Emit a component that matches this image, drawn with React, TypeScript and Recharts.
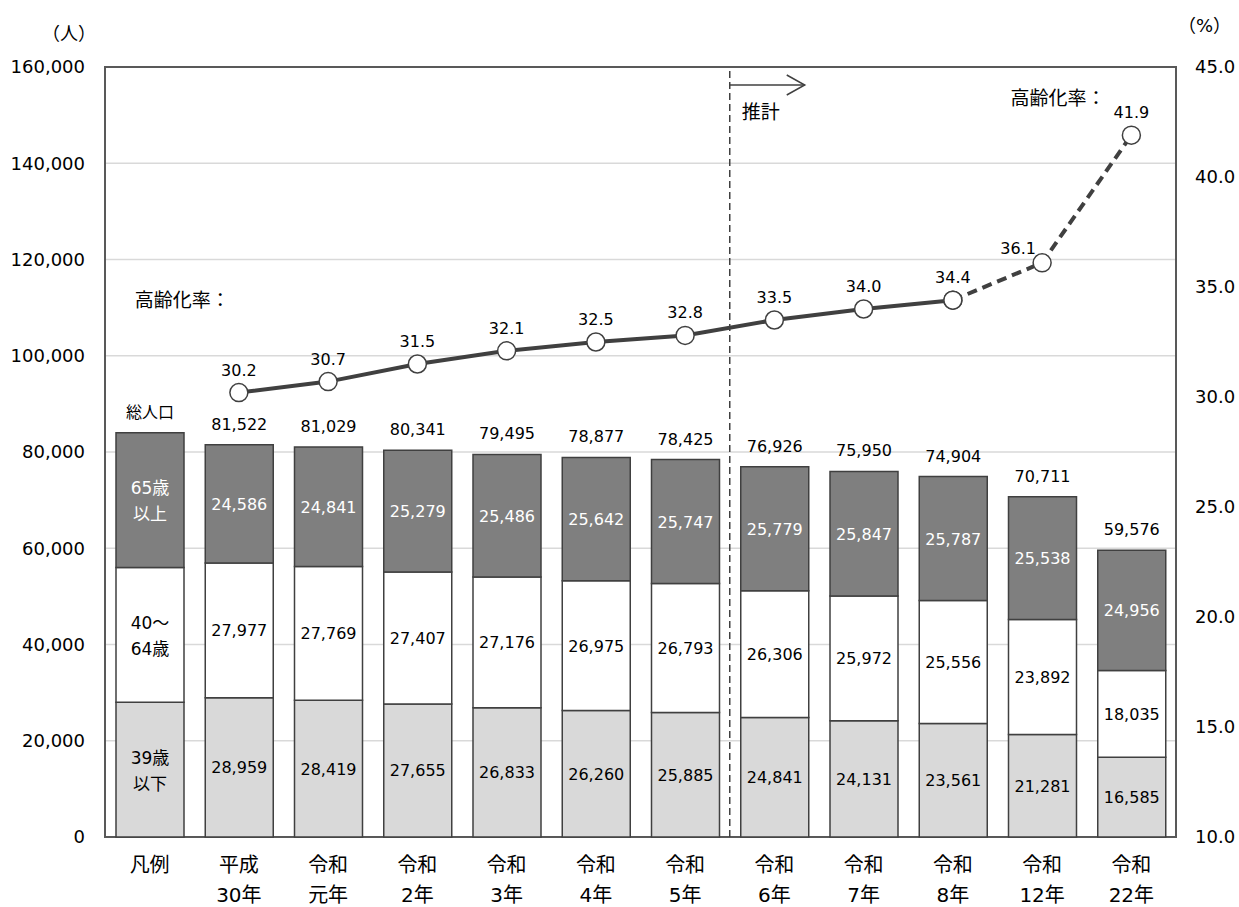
import {
  ComposedChart, Bar, Line, XAxis, YAxis, CartesianGrid, LabelList,
  ReferenceLine, ReferenceArea, ReferenceDot
} from 'recharts'

const categories = ['凡例', '平成30年', '令和元年', '令和2年', '令和3年', '令和4年', '令和5年', '令和6年', '令和7年', '令和8年', '令和12年', '令和22年']
const under40 = [28000, 28959, 28419, 27655, 26833, 26260, 25885, 24841, 24131, 23561, 21281, 16585]
const age40to64 = [28000, 27977, 27769, 27407, 27176, 26975, 26793, 26306, 25972, 25556, 23892, 18035]
const over65 = [28000, 24586, 24841, 25279, 25486, 25642, 25747, 25779, 25847, 25787, 25538, 24956]
const agingRate: (number | null)[] = [null, 30.2, 30.7, 31.5, 32.1, 32.5, 32.8, 33.5, 34.0, 34.4, 36.1, 41.9]

const legendLabels = ['39歳\n以下', '40～\n64歳', '65歳\n以上']
const totalLegend = '総人口'
const projectionStart = '令和6年'
const solidLineEnd = '令和8年'
const leftTicks = [0, 20000, 40000, 60000, 80000, 100000, 120000, 140000, 160000]
const rightTicks = [10, 15, 20, 25, 30, 35, 40, 45]

const solidEnd = categories.indexOf(solidLineEnd)
// label nudged to the left so the rising dashed line doesn't cross it
const shiftedLabel = categories.indexOf('令和12年')

const data = categories.map((name, i) => ({
  name,
  under40: under40[i],
  mid: age40to64[i],
  over65: over65[i],
  total: under40[i] + age40to64[i] + over65[i],
  rateSolid: i <= solidEnd ? agingRate[i] : null,
  rateDashed: i >= solidEnd ? agingRate[i] : null,
}))

const fmt = (v: number) => v.toLocaleString('en-US')
const DARK = '#404040'

const segmentLabel = (color: string, legendIdx: number) => (props: any) => {
  const { x, y, width, height, value, index } = props
  const cx = x + width / 2
  const cy = y + height / 2
  if (index === 0) {
    const [a, b] = legendLabels[legendIdx].split('\n')
    return (
      <text textAnchor="middle" fill={color} fontSize={17}>
        <tspan x={cx} y={cy - 6}>{a}</tspan>
        <tspan x={cx} y={cy + 20}>{b}</tspan>
      </text>
    )
  }
  return (
    <text x={cx} y={cy + 6} textAnchor="middle" fill={color} fontSize={16}>
      {fmt(value)}
    </text>
  )
}

const totalLabel = (props: any) => {
  const { x, y, width, index } = props
  const cx = x + width / 2
  if (index === 0) {
    return <text x={cx} y={y - 15} textAnchor="middle" fill="#000" fontSize={16}>{totalLegend}</text>
  }
  return <text x={cx} y={y - 15} textAnchor="middle" fill="#000" fontSize={16}>{fmt(data[index].total)}</text>
}

const rateLabel = (skip: number) => (props: any) => {
  const { x, y, value, index } = props
  if (value == null || index === skip) return null
  const dx = index === shiftedLabel ? -24 : 0
  const dy = index === shiftedLabel ? -9 : -17
  return <text x={x + dx} y={y + dy} textAnchor="middle" fill="#000" fontSize={16}>{Number(value).toFixed(1)}</text>
}

const CategoryTick = (props: any) => {
  const { x, y, payload } = props
  const label: string = payload.value
  const l1 = label.slice(0, 2)
  const l2 = label.slice(2)
  return (
    <text textAnchor="middle" fill="#000" fontSize={20}>
      <tspan x={x} y={y + 35}>{l1}</tspan>
      {l2 && <tspan x={x} y={y + 65}>{l2}</tspan>}
    </text>
  )
}

export default function App() {
  return (
    <div style={{ position: 'absolute', left: 0, top: 0, width: 1239, height: 907, background: '#fff', fontFamily: '"DejaVu Sans", "Noto Sans CJK JP", sans-serif' }}>
      <div style={{ position: 'absolute', left: 42, top: 19, fontSize: 18 }}>（人）</div>
      <div style={{ position: 'absolute', left: 1178, top: 11, fontSize: 18 }}>（%）</div>
      <ComposedChart width={1239} height={907} data={data} margin={{ top: 67, right: 0, bottom: 0, left: 0 }}>
        <CartesianGrid yAxisId="left" vertical={false} stroke="#d9d9d9" strokeWidth={1.5} />
        <ReferenceArea yAxisId="left" y1={0} y2={160000} fill="none" stroke="#595959" strokeWidth={2} />
        <XAxis dataKey="name" height={70} axisLine={false} tickLine={false} tickSize={0} tickMargin={0} interval={0} tick={<CategoryTick />} />
        <YAxis yAxisId="left" width={105} domain={[0, 160000]} ticks={leftTicks} tickFormatter={fmt}
          axisLine={false} tickLine={false} tickSize={0} tickMargin={20} tick={{ fill: '#000', fontSize: 18 }} />
        <YAxis yAxisId="right" orientation="right" width={63} domain={[10, 45]} ticks={rightTicks}
          tickFormatter={(v: number) => v.toFixed(1)}
          axisLine={false} tickLine={false} tickSize={0} tickMargin={19} tick={{ fill: '#000', fontSize: 18 }} />
        <Bar yAxisId="left" dataKey="under40" stackId="a" barSize={68} fill="#d9d9d9" stroke={DARK} strokeWidth={1.5} isAnimationActive={false}>
          <LabelList dataKey="under40" content={segmentLabel('#000', 0)} />
        </Bar>
        <Bar yAxisId="left" dataKey="mid" stackId="a" barSize={68} fill="#ffffff" stroke={DARK} strokeWidth={1.5} isAnimationActive={false}>
          <LabelList dataKey="mid" content={segmentLabel('#000', 1)} />
        </Bar>
        <Bar yAxisId="left" dataKey="over65" stackId="a" barSize={68} fill="#7f7f7f" stroke={DARK} strokeWidth={1.5} isAnimationActive={false}>
          <LabelList dataKey="over65" content={segmentLabel('#fff', 2)} />
          <LabelList dataKey="total" content={totalLabel} />
        </Bar>
        <ReferenceLine yAxisId="left" x={projectionStart} position="start" stroke={DARK} strokeWidth={1.5} strokeDasharray="7 4"
          label={(p: any) => {
            const { x, y } = p.viewBox
            const ay = y + 18
            return (
              <g>
                <line x1={x} y1={ay} x2={x + 75} y2={ay} stroke={DARK} strokeWidth={1.5} />
                <polyline points={`${x + 57},${ay - 10} ${x + 75},${ay} ${x + 57},${ay + 10}`} fill="none" stroke={DARK} strokeWidth={1.5} />
                <text x={x + 12} y={y + 52} fontSize={19} fill="#000">推計</text>
              </g>
            )
          }} />
        <ReferenceDot yAxisId="right" x="凡例" y={34.4} r={0} fill="none" stroke="none"
          label={(p: any) => {
            const { x, y } = p.viewBox
            return <text x={x - 15} y={y + 7} fontSize={19} fill="#000">高齢化率：</text>
          }} />
        <ReferenceDot yAxisId="right" x="令和22年" y={43.6} r={0} fill="none" stroke="none"
          label={(p: any) => {
            const { x, y } = p.viewBox
            return <text x={x - 121} y={y + 7} fontSize={19} fill="#000">高齢化率：</text>
          }} />
        <Line yAxisId="right" dataKey="rateSolid" stroke={DARK} strokeWidth={4} connectNulls={false}
          dot={{ r: 9, fill: '#fff', stroke: DARK, strokeWidth: 1.5 }} isAnimationActive={false}>
          <LabelList dataKey="rateSolid" content={rateLabel(-1)} />
        </Line>
        <Line yAxisId="right" dataKey="rateDashed" stroke={DARK} strokeWidth={4} strokeDasharray="10 6" connectNulls={false}
          dot={{ r: 9, fill: '#fff', stroke: DARK, strokeWidth: 1.5, strokeDasharray: '0' }} isAnimationActive={false}>
          <LabelList dataKey="rateDashed" content={rateLabel(solidEnd)} />
        </Line>
      </ComposedChart>
    </div>
  )
}
